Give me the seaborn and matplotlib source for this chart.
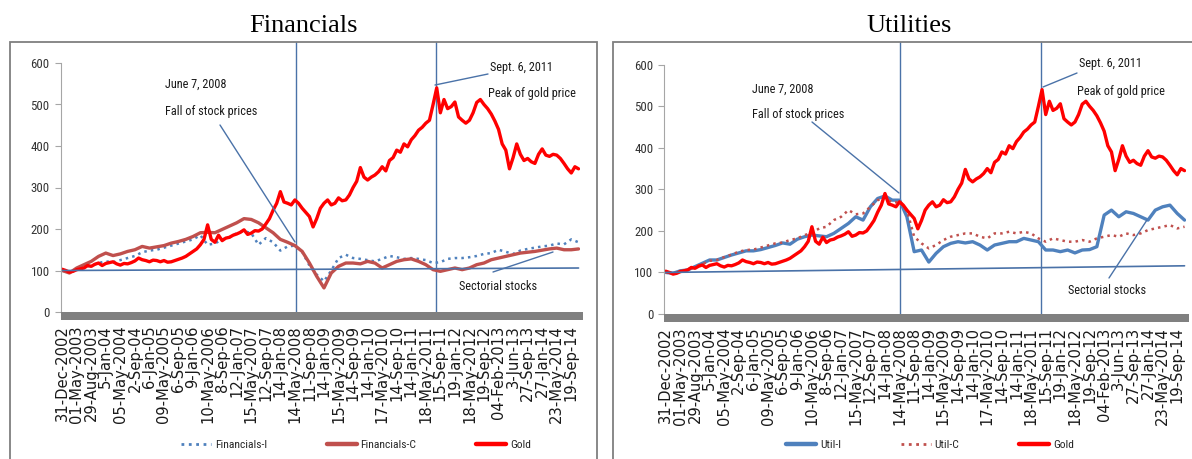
import os
import numpy as np
import pandas as pd
import seaborn as sns
import matplotlib
matplotlib.use("Agg")
import matplotlib.pyplot as plt
from matplotlib import font_manager
from matplotlib.font_manager import FontProperties
from matplotlib.lines import Line2D
from matplotlib.patches import Rectangle

# ---------------- data ----------------
TICK_LABELS = [
    "31-Dec-2002", "01-May-2003", "29-Aug-2003", "5-Jan-04", "05-May-2004",
    "2-Sep-04", "6-Jan-05", "09-May-2005", "6-Sep-05", "9-Jan-06",
    "10-May-2006", "8-Sep-06", "12-Jan-07", "15-May-2007", "12-Sep-07",
    "14-Jan-08", "14-May-2008", "11-Sep-08", "14-Jan-09", "15-May-2009",
    "14-Sep-09", "14-Jan-10", "17-May-2010", "14-Sep-10", "14-Jan-11",
    "18-May-2011", "15-Sep-11", "19-Jan-12", "18-May-2012", "19-Sep-12",
    "04-Feb-2013", "3-Jun-13", "27-Sep-13", "27-Jan-14", "23-May-2014",
    "19-Sep-14",
]

# Gold sampled every quarter of a category-label interval (index 0 = 31-Dec-2002 = 100)
GOLD = [103, 100, 96, 98, 102, 104, 106, 112,
        110, 115, 118, 112, 117, 119, 121, 116,
        113, 117, 116, 119, 123, 130, 126, 124,
        121, 125, 124, 121, 124, 120, 121, 124,
        127, 130, 134, 140, 146, 152, 162, 175,
        210, 175, 168, 185, 172, 178, 180, 185,
        188, 192, 198, 187, 190, 196, 195, 200,
        212, 225, 245, 262, 290, 265, 262, 258,
        270, 262, 250, 240, 230, 205, 225, 250,
        262, 270, 258, 262, 275, 268, 270, 282,
        300, 315, 348, 325, 318, 325, 330, 338,
        350, 340, 365, 372, 390, 385, 405, 398,
        415, 425, 438, 445, 455, 462, 500, 540,
        480, 512, 490, 495, 506, 470, 462, 455,
        462, 480, 505, 512, 500, 490, 477, 460,
        440, 405, 390, 345, 372, 405, 380, 365,
        370, 362, 358, 380, 393, 378, 375, 380,
        378, 370, 358, 345, 335, 350, 345]
# sector series sampled every half interval
FIN_I = [100, 95, 103, 108, 112, 118, 122, 120, 125, 130,
         135, 144, 148, 150, 155, 160, 165, 170, 175, 185,
         162, 165, 175, 180, 190, 195, 190, 162, 178, 168,
         148, 158, 160, 145, 112, 90, 74, 100, 130, 138,
         130, 128, 125, 122, 128, 135, 132, 128, 130, 128,
         125, 118, 120, 128, 130, 130, 132, 135, 140, 142,
         150, 145, 140, 148, 152, 155, 158, 160, 165, 163,
         175, 168]
FIN_C = [100, 94, 106, 114, 122, 134, 142, 136, 140, 146,
         150, 158, 154, 157, 160, 166, 170, 175, 182, 191,
         192, 191, 199, 207, 215, 225, 223, 215, 203, 191,
         175, 168, 160, 146, 118, 86, 58, 94, 110, 118,
         118, 116, 122, 118, 106, 114, 122, 126, 128, 122,
         114, 102, 98, 102, 106, 102, 106, 114, 118, 126,
         130, 134, 138, 142, 144, 146, 149, 152, 154, 150,
         150, 152]
UTIL_I = [100, 98, 104, 106, 114, 122, 130, 130, 136, 142,
          147, 152, 152, 155, 160, 165, 171, 168, 180, 186,
          190, 188, 186, 194, 206, 218, 234, 226, 258, 278,
          284, 274, 274, 234, 150, 154, 125, 146, 162, 170,
          174, 171, 174, 166, 154, 166, 170, 174, 174, 182,
          178, 174, 154, 154, 150, 154, 147, 154, 155, 162,
          238, 250, 234, 246, 242, 234, 226, 250, 258, 262,
          242, 226]
UTIL_C = [100, 97, 104, 106, 114, 120, 128, 130, 137, 143,
          150, 154, 155, 160, 165, 170, 172, 178, 182, 190,
          195, 206, 210, 226, 234, 250, 240, 242, 258, 274,
          280, 268, 270, 250, 186, 170, 158, 166, 178, 186,
          190, 194, 194, 186, 182, 194, 194, 198, 194, 198,
          194, 182, 174, 182, 178, 174, 174, 178, 174, 182,
          186, 190, 186, 194, 190, 194, 202, 206, 210, 214,
          206, 210]
REF_FIN = [100, 106]     # hand-drawn reference line (start, end)
REF_UTIL = [100, 116]
EVENT_POS = [16.05, 25.7]  # June 7, 2008 and Sept. 6, 2011 on the category axis
STEP_GOLD = 0.25
STEP = 0.5

# ---------------- style ----------------
BLUE = "#4F81BD"
BROWN = "#C0504D"
RED = "#FF0000"
LINE_BLUE = "#4A72A8"
GRAY = "#808080"

W, H = 1192, 459
sns.set_theme(style="white")
names = {f.name for f in font_manager.fontManager.ttflist}
CANDIDATES = ["Noto Sans ExtraCondensed", "Liberation Sans Narrow",
              "Noto Sans Condensed", "Roboto Condensed", "Open Sans Condensed"]
NARROW = None
for fam in CANDIDATES:
    if fam in names:
        NARROW = dict(family=fam)
        break
if NARROW is None:
    NARROW = dict(family="DejaVu Sans", stretch="condensed")
plt.rcParams["font.family"] = ["DejaVu Sans"]

DEJAVU_PATH = os.path.join(matplotlib.get_data_path(), "fonts", "ttf", "DejaVuSans.ttf")
XT_KW = (dict(fname=DEJAVU_PATH) if os.path.exists(DEJAVU_PATH)
         else dict(family="DejaVu Sans", stretch="normal"))

fig = plt.figure(figsize=(W / 100, H / 100), dpi=100, facecolor="white")
renderer = fig.canvas.get_renderer()


def fit_size(sample, target_px, base, lo, hi, **font_kw):
    """font size at which `sample` is target_px wide (text sizing only)."""
    t = fig.text(0, 0, sample, fontproperties=FontProperties(size=base, **font_kw))
    w = t.get_window_extent(renderer).width
    t.remove()
    return float(np.clip(base * target_px / max(w, 1), lo, hi))


XT_FS = fit_size("31-Dec-2002", 97, 10.3, 8.5, 10.6, **XT_KW)
XT_PROP = FontProperties(size=XT_FS, **XT_KW)
ANN_FS = fit_size("Fall of stock prices", 93, 9.0, 7.5, 12.0, **NARROW)
YT_FS = fit_size("100", 19, 9.5, 8.0, 12.0, **NARROW)
LEG_FS = fit_size("Financials-C", 55, 8.5, 7.0, 11.0, **NARROW)


def fx(px):
    return px / W


def fy(py):
    return 1 - py / H


panels = [
    dict(title="Financials", title_xy=(303, 26),
         ax_px=(60.7, 63, 580, 312), frame=(10.4, 41.7, 597),
         series=[("Financials-I", FIN_I, BLUE, ":", 1.8, STEP),
                 ("Financials-C", FIN_C, BROWN, "-", 2.4, STEP),
                 ("Gold", GOLD, RED, "-", 2.4, STEP_GOLD)],
         ref=REF_FIN, legend_cx=356, colsp=5.2,
         texts=[("June 7, 2008", 165, 84), ("Fall of stock prices", 165, 111),
                ("Sept. 6, 2011", 490, 67), ("Peak of gold price", 488, 93),
                ("Sectorial stocks", 459, 287)],
         leaders=[((220, 125), (295, 242)), ((435, 85), (488, 74)),
                  ((493, 272), (553, 252))]),
    dict(title="Utilities", title_xy=(909, 26),
         ax_px=(664.3, 64.7, 1186, 314), frame=(613, 41.7, 1200),
         series=[("Util-I", UTIL_I, BLUE, "-", 2.4, STEP),
                 ("Util-C", UTIL_C, BROWN, ":", 1.8, STEP),
                 ("Gold", GOLD, RED, "-", 2.4, STEP_GOLD)],
         ref=REF_UTIL, legend_cx=930, colsp=5.2,
         texts=[("June 7, 2008", 752, 89), ("Fall of stock prices", 752, 115),
                ("Sept. 6, 2011", 1079, 64), ("Peak of gold price", 1077, 91),
                ("Sectorial stocks", 1068, 290)],
         leaders=[((812, 122), (899, 193)), ((1043, 87), (1077, 73)),
                  ((1109, 278), (1147, 220))]),
]

for p in panels:
    x0, y0, x1, y1 = p["ax_px"]
    ax = fig.add_axes([fx(x0), fy(y1), fx(x1) - fx(x0), fy(y0) - fy(y1)])
    ax.set_facecolor("white")

    # outer frame
    fl, ft, fr = p["frame"]
    fig.add_artist(Rectangle((fx(fl), fy(480)), fx(fr) - fx(fl), fy(ft) - fy(480),
                             fill=False, edgecolor="#7F7F7F", lw=1.3,
                             transform=fig.transFigure, clip_on=False))
    fig.text(fx(p["title_xy"][0]), fy(p["title_xy"][1]), p["title"],
             family="Liberation Serif", fontsize=19,
             ha="center", va="center", color="black")

    handles = []
    for name, vals, col, ls, lw, step in p["series"]:
        xs = np.arange(len(vals)) * step
        df = pd.DataFrame({"pos": xs, "value": vals})
        sns.lineplot(data=df, x="pos", y="value", ax=ax, color=col,
                     linewidth=lw, linestyle=ls, legend=False)
        handles.append(Line2D([], [], color=col, lw=lw + (0.8 if ls == "-" else 0.2),
                              linestyle=ls, label=name))

    xmax = (len(GOLD) - 1) * STEP_GOLD
    ax.set_xlim(-0.1, xmax + 0.1)
    ax.set_ylim(0, 600)

    # reference line at 100
    ref_df = pd.DataFrame({"pos": [0, xmax], "value": p["ref"]})
    sns.lineplot(data=ref_df, x="pos", y="value", ax=ax, color=LINE_BLUE,
                 linewidth=1.2, legend=False)

    # event lines
    for ev in EVENT_POS:
        ax.axvline(ev, ymin=0, ymax=1 + (y0 - 41.7) / (y1 - y0), color=LINE_BLUE,
                   lw=1.0, clip_on=False, zorder=1)

    # thick category axis bar
    fig.add_artist(Rectangle((fx(x0), fy(y1 + 8)), fx(x1 + 3) - fx(x0), 8 / H,
                             facecolor=GRAY, edgecolor="none",
                             transform=fig.transFigure))

    ax.set_xticks(np.arange(len(TICK_LABELS)))
    ax.set_xticklabels(TICK_LABELS, rotation=90, fontproperties=XT_PROP,
                       color="#1A1A1A")
    ax.tick_params(axis="x", length=0, pad=9.5)
    ax.set_yticks(np.arange(0, 601, 100))
    ax.set_yticklabels([str(v) for v in range(0, 601, 100)], fontsize=YT_FS,
                       color="#333333", **NARROW)
    ax.tick_params(axis="y", length=4, width=0.8, color="#A6A6A6", pad=4,
                   left=True)
    ax.set_xlabel("")
    ax.set_ylabel("")
    for s in ["top", "right", "bottom"]:
        ax.spines[s].set_visible(False)
    ax.spines["left"].set_color("#A6A6A6")
    ax.spines["left"].set_linewidth(0.8)
    ax.grid(False)

    # annotations
    for txt, tx, ty in p["texts"]:
        fig.text(fx(tx), fy(ty), txt, ha="left", va="center", fontsize=ANN_FS,
                 color="#1A1A1A", **NARROW)
    for (ax0, ay0), (ax1, ay1) in p["leaders"]:
        fig.add_artist(Line2D([fx(ax0), fx(ax1)], [fy(ay0), fy(ay1)],
                              color=LINE_BLUE, lw=1.0, transform=fig.transFigure))

    prop = FontProperties(size=LEG_FS, **NARROW)
    ax.legend(handles=handles, loc="center",
              bbox_to_anchor=(fx(p["legend_cx"]), fy(445)),
              bbox_transform=fig.transFigure, ncol=3, frameon=False,
              handlelength=2.6, handletextpad=0.35, columnspacing=p["colsp"],
              prop=prop)

fig.savefig("out.png", dpi=100, facecolor="white")
